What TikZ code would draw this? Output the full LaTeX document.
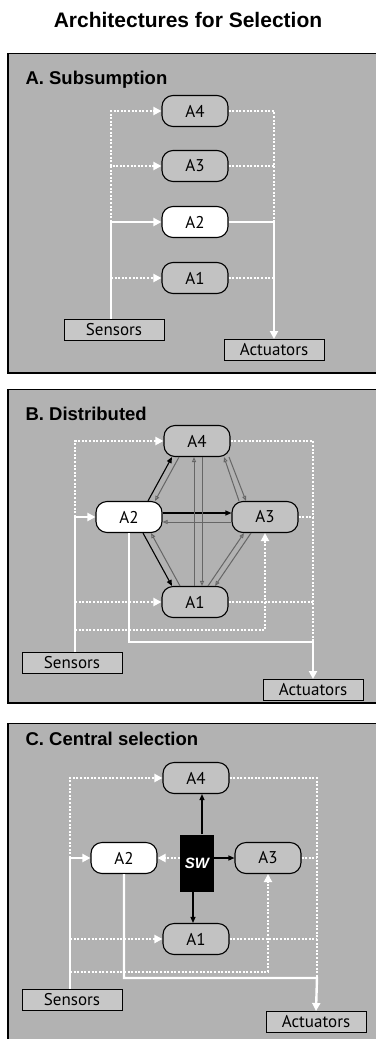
\documentclass[tikz,border=0pt]{standalone}
\usepackage{fontspec}
\setmainfont{Liberation Sans}
\newfontfamily\boxfont{PT Sans}
\usetikzlibrary{arrows.meta,positioning}

\tikzset{
  panel/.style={draw=black,line width=0.9pt,fill=black!30},
  shadow/.style={draw=black,line width=2.6pt},
  label/.style={anchor=base west,font=\bfseries\fontsize{18.5}{20}\selectfont},
  behav/.style={draw=black,line width=1.1pt,rounded corners=11pt,fill=black!24,
    minimum width=66pt,minimum height=31pt,inner sep=0pt,
    font=\boxfont\fontsize{17}{17}\selectfont},
  active/.style={behav,fill=white},
  iobox/.style={draw=black,line width=1pt,fill=black!22,minimum width=100pt,
    minimum height=21pt,inner sep=0pt,font=\boxfont\fontsize{17}{17}\selectfont},
  swbox/.style={fill=black,text=white,minimum width=34pt,minimum height=57pt,
    inner sep=0pt,font=\bfseries\itshape\fontsize{15}{15}\selectfont},
  wline/.style={draw=white,line width=2.4pt},
  wdot/.style={wline,dash pattern=on 2pt off 1.6pt},
  wtip/.style={-{Triangle[length=8pt,width=8pt,fill=white]}},
  inhon/.style={draw=black,line width=1.1pt,-{Triangle[length=6pt,width=5pt]}},
  inhoff/.style={draw=black!60,line width=1pt,-{Triangle[length=5pt,width=4pt,fill=black!15]}}
}

\begin{document}
\begin{tikzpicture}[x=1pt,y=-1pt]
\useasboundingbox (0,0) rectangle (375,1039);
%title
\node (title) at (188,20) {\bfseries\fontsize{21}{22}\selectfont Architectures for Selection};

% A. Subsumption
\draw[panel] (8,53) rectangle (385,373);
\draw[shadow] (8,53) -- (8,373) -- (385,373);
\node[label] (labA) at (22,84) {A. Subsumption};
\node[behav] (a4A) at (195,111) {A4};
\node[behav] (a3A) at (195,166) {A3};
\node[active] (a2A) at (195,222) {A2};
\node[behav] (a1A) at (195,278) {A1};
\node[iobox] (sensA) at (114,330) {Sensors};
\node[iobox] (actA) at (274,350) {Actuators};
%inputs
\path ([xshift=-3pt]sensA.north) coordinate (inA);
\draw[wdot,wtip] (inA |- a2A.west) |- (a3A.west);
\draw[wdot,wtip] (inA |- a3A.west) |- (a4A.west);
\draw[wdot,wtip] (inA |- a1A.west) -- (a1A.west);
\draw[wline,wtip] (inA) |- (a2A.west);
%outputs
\draw[wdot] (a4A.east) -| (actA.north |- a2A.east);
\draw[wdot] (a3A.east) -- (actA.north |- a3A.east);
\draw[wdot] (a1A.east) -- (actA.north |- a1A.east);
\draw[wline,wtip] (a2A.east) -| (actA.north);

% B. Distributed
\draw[panel] (8,389) rectangle (385,703);
\draw[shadow] (8,389) -- (8,703) -- (385,703);
\node[label] (labB) at (22,420) {B. Distributed};
\node[behav] (a4B) at (197,441) {A4};
\node[active] (a2B) at (129,517) {A2};
\node[behav] (a3B) at (265,517) {A3};
\node[behav] (a1B) at (195,602) {A1};
\node[iobox] (sensB) at (72,663) {Sensors};
\node[iobox] (actB) at (313,690) {Actuators};
%inputs
\path ([xshift=3pt]sensB.north) coordinate (inB);
\coordinate (feedB) at (75,630);
\coordinate (outB) at (313,642);
\draw[wdot,wtip] (inB |- a2B.west) |- (a4B.west);
\draw[wdot,wtip] (inB |- a1B.west) -- (a1B.west);
\draw[wdot,wtip] (feedB) -| (a3B.south);
\draw[wline,wtip] (inB) |- (a2B.west);
%outputs
\draw[wdot] (a4B.east) -| (outB);
\draw[wdot] (a3B.east) -- (outB |- a3B.east);
\draw[wdot] (a1B.east) -- (outB |- a1B.east);
\draw[wline,wtip] (a2B.south) |- (outB) -- (actB.north);
%links between behaviours
\draw[inhon] ([xshift=19pt]a2B.north) -- ([xshift=-25pt]a4B.south);
\draw[inhoff] ([xshift=-18pt]a4B.south) -- ([xshift=26pt]a2B.north);
\draw[inhon] ([yshift=4pt]a2B.east) -- ([yshift=4pt]a3B.west);
\draw[inhoff] ([yshift=-5pt]a3B.west) -- ([yshift=-5pt]a2B.east);
\draw[inhon] ([xshift=14pt]a2B.south) -- ([xshift=-23pt]a1B.north);
\draw[inhoff] ([xshift=-15pt]a1B.north) -- ([xshift=22pt]a2B.south);
\draw[inhoff] ([xshift=-1pt]a1B.north) -- ([xshift=-3pt]a4B.south);
\draw[inhoff] ([xshift=5pt]a4B.south) -- ([xshift=7pt]a1B.north);
\draw[inhoff] ([xshift=-26pt]a3B.north) -- ([xshift=27pt]a4B.south);
\draw[inhoff] ([xshift=32pt]a4B.south) -- ([xshift=-19pt]a3B.north);
\draw[inhoff] ([xshift=13pt]a1B.north) -- ([xshift=-21pt]a3B.south);
\draw[inhoff] ([xshift=-14pt]a3B.south) -- ([xshift=20pt]a1B.north);

% C. Central selection
\draw[panel] (8,723) rectangle (385,1050);
\draw[shadow] (8,723) -- (8,1050);
\node[label] (labC) at (22,745) {C. Central selection};
\node[behav] (a4C) at (196,778) {A4};
\node[active] (a2C) at (124,858) {A2};
\node[behav] (a3C) at (268,858) {A3};
\node[behav] (a1C) at (196,939) {A1};
\node[swbox] (swC) at (197,863) {SW};
\node[iobox] (sensC) at (72,1000) {Sensors};
\node[iobox] (actC) at (316,1022) {Actuators};
%inputs
\path ([xshift=-2pt]sensC.north) coordinate (inC);
\coordinate (feedC) at (70,972);
\coordinate (outC) at (317,978);
\draw[wdot,wtip] (inC |- a2C.west) |- (a4C.west);
\draw[wdot,wtip] (inC |- a1C.west) -- (a1C.west);
\draw[wdot,wtip] (feedC) -| (a3C.south);
\draw[wline,wtip] (inC) |- (a2C.west);
%outputs
\draw[wdot] (a4C.east) -| (outC);
\draw[wdot] (a3C.east) -- (outC |- a3C.east);
\draw[wdot] (a1C.east) -- (outC |- a1C.east);
\draw[wline,wtip] (a2C.south) |- (outC) -- (actC.north);
%switch
\draw[inhon] ([xshift=5pt]swC.north) -- ([xshift=6pt]a4C.south);
\draw[inhon] ([yshift=5pt]swC.east) -- (a3C.west);
\draw[inhon] ([xshift=-4pt]swC.south) -- ([xshift=-3pt]a1C.north);
\draw[wdot,wtip] ([yshift=5pt]swC.west) -- (a2C.east);
\end{tikzpicture}
\end{document}
